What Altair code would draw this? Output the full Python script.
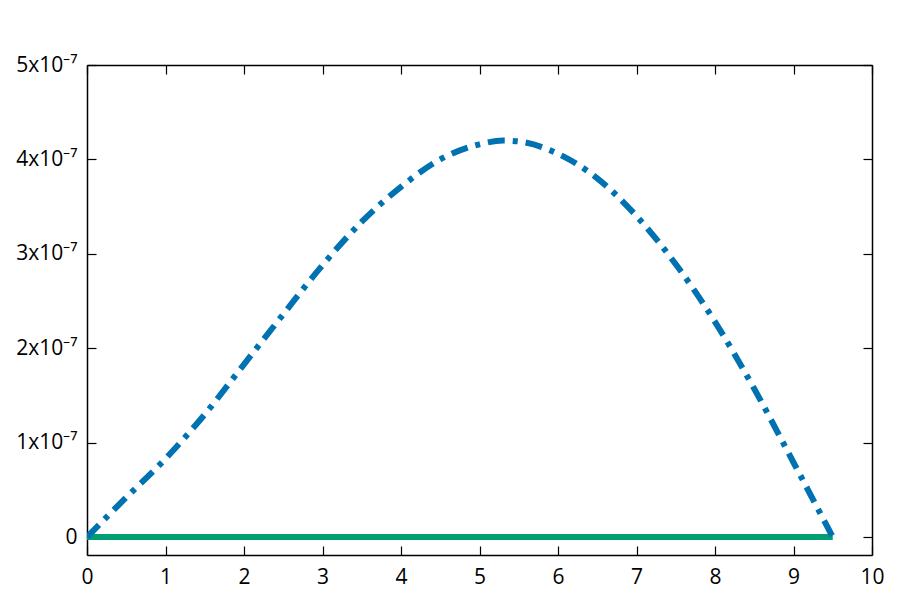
import altair as alt
import pandas as pd

# data
xs = [0, 0.5, 1, 1.5, 2, 2.5, 3, 3.5, 4, 4.5, 5, 5.3, 5.5, 6, 6.5, 7, 7.5, 8, 8.5, 9, 9.5]
blue_vals = [0, 0.42, 0.83, 1.30, 1.83, 2.36, 2.88, 3.34, 3.71, 4.00, 4.16, 4.20, 4.19,
             4.06, 3.80, 3.40, 2.89, 2.28, 1.57, 0.79, 0.0]
blue_scale = 1e-7
green_vals = [0.0] * len(xs)

x_ticks = list(range(0, 11))
y_ticks = [0, 1e-7, 2e-7, 3e-7, 4e-7, 5e-7]
x_domain = [0, 10]
y_domain = [-1.9e-8, 5e-7]

W, H = 785, 490
FONT = "Open Sans"
FS = 21

df_blue = pd.DataFrame({"x": xs, "y": [v * blue_scale for v in blue_vals]})
df_green = pd.DataFrame({"x": xs, "y": green_vals})

xs_ = alt.Scale(domain=x_domain, nice=False)
ys_ = alt.Scale(domain=y_domain, nice=False, zero=False)

label_expr_y = "datum.value == 0 ? '0' : format(round(datum.value*1e7), 'd') + 'x10⁻⁷'"

def tick_axis(orient, offset, values):
    return alt.Axis(orient=orient, offset=offset, values=values, labels=False,
                    domain=True, domainColor="black", domainWidth=1.5,
                    ticks=True, tickSize=9, tickColor="black",
                    tickWidth=1.2, grid=False, title=None)

green = alt.Chart(df_green).mark_line(color="#009e73", strokeWidth=6, clip=True).encode(
    x=alt.X("x:Q", scale=xs_, axis=alt.Axis(orient="bottom", values=x_ticks, ticks=False,
                                             domain=False, grid=False, title=None,
                                             labelFont=FONT, labelFontSize=FS,
                                             labelColor="black", labelPadding=11,
                                             labelFlush=False, labelOverlap=False)),
    y=alt.Y("y:Q", scale=ys_, axis=alt.Axis(orient="left", values=y_ticks, ticks=False,
                                             domain=False, grid=False, title=None,
                                             labelFont=FONT, labelFontSize=FS,
                                             labelColor="black", labelPadding=10,
                                             labelFlush=False, labelOverlap=False,
                                             labelExpr=label_expr_y)),
)

blue = alt.Chart(df_blue).mark_line(color="#0072b2", strokeWidth=6,
                                    strokeDash=[17, 8, 5, 8], interpolate="monotone",
                                    clip=True).encode(
    x=alt.X("x:Q", scale=xs_, axis=tick_axis("top", -H, x_ticks)),
    y=alt.Y("y:Q", scale=ys_, axis=tick_axis("right", -W, y_ticks)),
)

ghost = alt.Chart(df_green).mark_line(strokeOpacity=0).encode(
    x=alt.X("x:Q", scale=xs_, axis=tick_axis("bottom", -H, x_ticks)),
    y=alt.Y("y:Q", scale=ys_, axis=tick_axis("left", -W, y_ticks)),
)

chart = alt.layer(green, blue, ghost).resolve_axis(
    x="independent", y="independent"
).properties(
    width=W, height=H,
    autosize=alt.AutoSizeParams(type="none"),
    padding={"left": 79, "top": 57, "right": 20, "bottom": 37},
).configure_view(stroke="transparent").configure(background="white")

chart.save("out.html", embed_options={"renderer": "svg", "actions": False})
